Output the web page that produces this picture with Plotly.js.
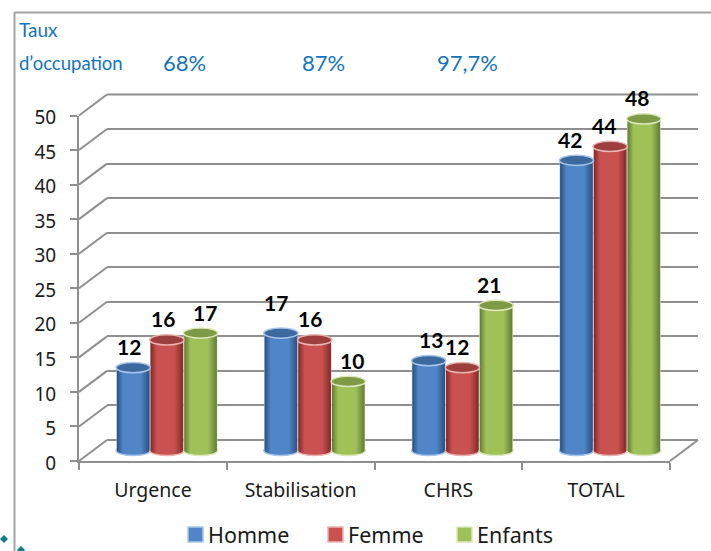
<!DOCTYPE html>
<html><head><meta charset="utf-8">
<script src="https://cdn.plot.ly/plotly-3.0.1.min.js"></script>
<style>html,body{margin:0;padding:0;background:#fff}</style></head>
<body><div id="chart" style="width:711px;height:551px"></div>
<script>
const categories = ['Urgence','Stabilisation','CHRS','TOTAL'];
const homme = [12,17,13,42];
const femme = [16,16,12,44];
const enfants = [17,10,21,48];
const seriesNames = ['Homme','Femme','Enfants'];
const occupationRates = ['68%','87%','97,7%'];
const occupationLabel = ['Taux','d’occupation'];
const yTicks = [0,5,10,15,20,25,30,35,40,45,50];

const seriesValues = [homme,femme,enfants];
const mid = ['#5086c8','#c95150','#a0c058'];
const dark = ['#2c5484','#842c2b','#65803a'];
const lidFill = ['#3d6a9e','#9c3f3d','#7f9a45'];
const rim = ['#a9c6ea','#eab4b2','#dce8bc'];

// figure geometry in pixels
const W=711,H=551;
const px=x=>x/W, py=y=>1-y/H;
const front={x0:79,x1:670,y0:461,y50:115.5};
const depth={x:28,y:21};
const unit=(front.y0-front.y50)/50;

const barPad=5;            // bar axis runs from -5 to 55 so the base ellipse is not clipped
const midX=depth.x/2, midY=depth.y/2;
const barAxisY=[front.y0-midY+barPad*unit, front.y50-midY-barPad*unit];

const barW=0.228, capRx=0.116, capRy=0.74;
const hoffs=[-1,0,1];
const labelDx=[[-4,-4,4,],[-5,-5,4],[2,-5,-7],[-6,-6,-7]];
const labelDy=[[21,21,21],[31,21,21],[21,21,21],[21,21,21]];

const traces=[];
// back wall (first subplot, so that it sits under everything)
traces.push({type:'scatter',x:categories,y:categories.map(()=>0),xaxis:'x',yaxis:'y',mode:'markers',
  marker:{opacity:0},showlegend:false,hoverinfo:'skip'});
// front axes
traces.push({type:'scatter',x:categories,y:categories.map(()=>0),xaxis:'x2',yaxis:'y2',mode:'markers',
  marker:{opacity:0},showlegend:false,hoverinfo:'skip'});
// the bars
seriesNames.forEach((n,s)=>traces.push({type:'bar',name:n,x:categories,y:seriesValues[s],xaxis:'x3',yaxis:'y3',
  marker:{color:mid[s],line:{width:0}},showlegend:false}));

const shapes=[],annotations=[];
const gridCol='#8f8f8f';
const line=(x0,y0,x1,y1,w)=>shapes.push({type:'line',xref:'paper',yref:'paper',x0:px(x0),y0:py(y0),x1:px(x1),y1:py(y1),
  line:{color:gridCol,width:w||2},layer:'below'});
// side wall and floor edges
yTicks.forEach(v=>{const y=front.y0-v*unit; line(front.x0,y,front.x0+depth.x,y-depth.y);});
line(front.x1,front.y0,front.x1+depth.x,front.y0-depth.y);
// top line of the back wall
line(front.x0+depth.x,front.y50-depth.y,front.x1+depth.x,front.y50-depth.y);
// frame
shapes.push({type:'line',xref:'paper',yref:'paper',x0:px(14.5),x1:px(14.5),y0:py(12),y1:0,line:{color:'#a3a3a3',width:2}});
shapes.push({type:'line',xref:'paper',yref:'paper',x0:px(14.5),x1:1,y0:py(12.5),y1:py(12.5),line:{color:'#a3a3a3',width:2}});
// corner bullets
[[4,539,4],[21,550,4]].forEach(([x,y,r])=>shapes.push({type:'path',xref:'paper',yref:'paper',fillcolor:'#0f7c8c',line:{width:0},
  path:`M ${px(x-r)} ${py(y)} L ${px(x)} ${py(y-r)} L ${px(x+r)} ${py(y)} L ${px(x)} ${py(y+r)} Z`}));

// cylinder ends and labels, placed through the bar axes
const baseShapeSeries=[];
seriesValues.forEach((vals,s)=>vals.forEach((v,i)=>{
  const cx=i+hoffs[s]*barW;
  baseShapeSeries.push([shapes.length,s]);
  shapes.push({type:'circle',xref:'x3',yref:'y3',layer:'below',x0:cx-capRx,x1:cx+capRx,y0:-capRy,y1:capRy,
    fillcolor:mid[s],line:{color:rim[s],width:1.5}});
}));
seriesValues.forEach((vals,s)=>vals.forEach((v,i)=>{
  const cx=i+hoffs[s]*barW;
  shapes.push({type:'circle',xref:'x3',yref:'y3',x0:cx-capRx,x1:cx+capRx,y0:v-capRy,y1:v+capRy,
    fillcolor:lidFill[s],line:{color:rim[s],width:1.5}});
  annotations.push({xref:'x3',yref:'y3',x:cx,y:v,text:String(v),showarrow:false,xanchor:'center',yanchor:'middle',
    xshift:labelDx[i][s],yshift:labelDy[i][s],font:{family:'Lato, sans-serif',size:21,color:'#000',weight:700}});
}));

// heading text
const blue='#1273bd';
const txt=(t,x,y,size,anchor,color,fam)=>annotations.push({xref:'paper',yref:'paper',x:px(x),y:py(y),text:t,showarrow:false,
  xanchor:anchor,yanchor:'middle',font:{family:fam||'Lato, sans-serif',size:size,color:color||blue}});
txt(occupationLabel[0],17,30,19,'left');
txt(occupationLabel[1],17,63,18.5,'left');
[184,323,467].forEach((x,i)=>txt(occupationRates[i],x,62,22,'center'));

// legend
const legendSwatch=[188,328,457];
seriesNames.forEach((n,s)=>{
  const x=legendSwatch[s];
  shapes.push({type:'rect',xref:'paper',yref:'paper',x0:px(x),x1:px(x+15),y0:py(542),y1:py(527),
    fillcolor:mid[s],line:{color:rim[s],width:1.5}});
  txt(n,x+18,534,21.5,'left','#1a1a1a','"Noto Sans", sans-serif');
});

const layout={
  width:W,height:H,margin:{l:0,r:0,t:0,b:0,autoexpand:false},paper_bgcolor:'#fff',plot_bgcolor:'rgba(0,0,0,0)',
  showlegend:false,barmode:'group',bargap:0.316,bargroupgap:0,hovermode:false,shapes,annotations,
  // back wall
  xaxis:{domain:[px(front.x0+depth.x),px(front.x1+depth.x)],anchor:'y',visible:false,type:'category',categoryarray:categories,range:[-0.5,3.5]},
  yaxis:{domain:[py(front.y0-depth.y),py(front.y50-depth.y)],anchor:'x',range:[0,50],tickvals:yTicks,showgrid:true,
    gridcolor:gridCol,gridwidth:2,showticklabels:false,ticks:'',showline:false,zeroline:true,zerolinecolor:gridCol,zerolinewidth:2},
  // front axes
  xaxis2:{domain:[px(front.x0),px(front.x1)],anchor:'y2',type:'category',categoryarray:categories,range:[-0.5,3.5],
    tickson:'boundaries',ticks:'outside',ticklen:7,tickwidth:2,tickcolor:gridCol,showline:true,linecolor:gridCol,linewidth:2,
    showgrid:false,zeroline:false,tickfont:{family:'"Noto Sans", sans-serif',size:19.5,color:'#1a1a1a'},ticklabelstandoff:11},
  yaxis2:{domain:[py(front.y0),py(front.y50)],anchor:'x2',range:[0,50],tickvals:yTicks,ticks:'outside',ticklen:7,tickwidth:2,
    tickcolor:gridCol,showline:true,linecolor:gridCol,linewidth:2,showgrid:false,zeroline:false,
    tickfont:{family:'"Noto Sans", sans-serif',size:19,color:'#1a1a1a'},ticklabelstandoff:10,ticklabelshift:2},
  // bars, half way through the depth
  xaxis3:{domain:[px(front.x0+midX),px(front.x1+midX)],anchor:'y3',visible:false,type:'category',categoryarray:categories,range:[-0.5,3.5]},
  yaxis3:{domain:[py(barAxisY[0]),py(barAxisY[1])],anchor:'x3',visible:false,range:[-barPad,50+barPad]}
};

Plotly.newPlot('chart',traces,layout,{staticPlot:true,displayModeBar:false}).then(gd=>{
  const NS='http://www.w3.org/2000/svg';
  const svg=gd.querySelector('svg.main-svg');
  let defs=svg.querySelector('defs'); if(!defs){defs=document.createElementNS(NS,'defs');svg.prepend(defs);}
  seriesNames.forEach((n,s)=>{
    const g=document.createElementNS(NS,'linearGradient');
    g.setAttribute('id','cyl'+s);
    [[0,rim[s]],[0.03,dark[s]],[0.2,mid[s]],[0.72,mid[s]],[0.97,dark[s]],[1,rim[s]]].forEach(([o,c])=>{
      const st=document.createElementNS(NS,'stop');st.setAttribute('offset',o);st.setAttribute('stop-color',c);g.appendChild(st);
    });
    defs.appendChild(g);
  });
  gd.querySelectorAll('.barlayer .trace.bars').forEach((t,s)=>{
    t.querySelectorAll('path').forEach(p=>{p.style.fill='url(#cyl'+s+')';});
  });
  baseShapeSeries.forEach(([idx,s])=>{
    gd.querySelectorAll('path[data-index="'+idx+'"]').forEach(p=>{p.style.fill='url(#cyl'+s+')';});
  });
});
</script></body></html>
